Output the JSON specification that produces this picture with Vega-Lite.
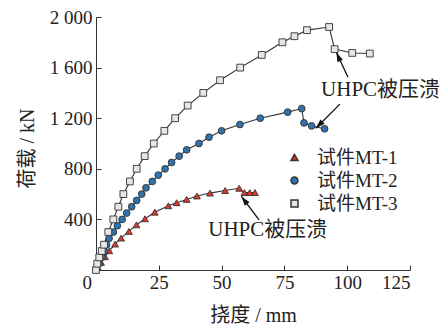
{
  "$schema": "https://vega.github.io/schema/vega-lite/v6.json",
  "width": 314,
  "height": 253,
  "autosize": {"type": "none"},
  "padding": {"left": 96, "top": 17, "right": 35, "bottom": 59},
  "background": "white",
  "config": {
    "view": {"stroke": null},
    "font": "Liberation Serif, Noto Sans CJK SC",
    "axis": {
      "grid": false,
      "domainColor": "#333",
      "tickColor": "#333",
      "labelColor": "#222",
      "titleColor": "#222",
      "labelFont": "Liberation Serif",
      "labelFontSize": 19,
      "titleFont": "Liberation Serif, Noto Sans CJK SC",
      "titleFontSize": 20,
      "titleFontWeight": "normal",
      "tickSize": -5
    }
  },
  "datasets": {
    "curves": [
      {"s": "试件MT-1", "x": 0.8, "y": 20},
      {"s": "试件MT-1", "x": 2.0, "y": 60},
      {"s": "试件MT-1", "x": 3.6, "y": 105},
      {"s": "试件MT-1", "x": 5.3, "y": 152},
      {"s": "试件MT-1", "x": 7.6, "y": 205},
      {"s": "试件MT-1", "x": 10.0, "y": 252},
      {"s": "试件MT-1", "x": 13.1, "y": 305},
      {"s": "试件MT-1", "x": 16.1, "y": 357},
      {"s": "试件MT-1", "x": 19.5, "y": 405},
      {"s": "试件MT-1", "x": 23.4, "y": 457},
      {"s": "试件MT-1", "x": 28.8, "y": 508},
      {"s": "试件MT-1", "x": 32.1, "y": 532},
      {"s": "试件MT-1", "x": 36.1, "y": 558},
      {"s": "试件MT-1", "x": 40.2, "y": 585},
      {"s": "试件MT-1", "x": 45.4, "y": 608},
      {"s": "试件MT-1", "x": 51.4, "y": 628},
      {"s": "试件MT-1", "x": 57.0, "y": 646},
      {"s": "试件MT-1", "x": 59.1, "y": 612},
      {"s": "试件MT-1", "x": 61.2, "y": 612},
      {"s": "试件MT-1", "x": 63.3, "y": 612},
      {"s": "试件MT-2", "x": 1.2, "y": 50},
      {"s": "试件MT-2", "x": 2.4, "y": 100},
      {"s": "试件MT-2", "x": 3.3, "y": 150},
      {"s": "试件MT-2", "x": 4.2, "y": 200},
      {"s": "试件MT-2", "x": 5.2, "y": 250},
      {"s": "试件MT-2", "x": 6.9, "y": 300},
      {"s": "试件MT-2", "x": 8.5, "y": 350},
      {"s": "试件MT-2", "x": 10.4, "y": 400},
      {"s": "试件MT-2", "x": 12.2, "y": 450},
      {"s": "试件MT-2", "x": 14.2, "y": 500},
      {"s": "试件MT-2", "x": 16.2, "y": 550},
      {"s": "试件MT-2", "x": 18.2, "y": 600},
      {"s": "试件MT-2", "x": 19.9, "y": 650},
      {"s": "试件MT-2", "x": 22.4, "y": 700},
      {"s": "试件MT-2", "x": 24.8, "y": 750},
      {"s": "试件MT-2", "x": 27.5, "y": 800},
      {"s": "试件MT-2", "x": 30.1, "y": 850},
      {"s": "试件MT-2", "x": 33.1, "y": 900},
      {"s": "试件MT-2", "x": 36.1, "y": 950},
      {"s": "试件MT-2", "x": 41.0, "y": 1000},
      {"s": "试件MT-2", "x": 45.0, "y": 1050},
      {"s": "试件MT-2", "x": 50.0, "y": 1100},
      {"s": "试件MT-2", "x": 57.3, "y": 1150},
      {"s": "试件MT-2", "x": 65.4, "y": 1200},
      {"s": "试件MT-2", "x": 76.3, "y": 1248},
      {"s": "试件MT-2", "x": 81.9, "y": 1276},
      {"s": "试件MT-2", "x": 82.8, "y": 1163},
      {"s": "试件MT-2", "x": 85.8, "y": 1139},
      {"s": "试件MT-2", "x": 91.0, "y": 1116},
      {"s": "试件MT-3", "x": 0.0, "y": 0},
      {"s": "试件MT-3", "x": 0.5, "y": 50},
      {"s": "试件MT-3", "x": 1.3, "y": 100},
      {"s": "试件MT-3", "x": 2.3, "y": 150},
      {"s": "试件MT-3", "x": 3.2, "y": 200},
      {"s": "试件MT-3", "x": 4.9, "y": 300},
      {"s": "试件MT-3", "x": 6.9, "y": 400},
      {"s": "试件MT-3", "x": 8.9, "y": 500},
      {"s": "试件MT-3", "x": 10.9, "y": 600},
      {"s": "试件MT-3", "x": 13.5, "y": 700},
      {"s": "试件MT-3", "x": 16.2, "y": 800},
      {"s": "试件MT-3", "x": 19.4, "y": 900},
      {"s": "试件MT-3", "x": 23.0, "y": 1000},
      {"s": "试件MT-3", "x": 27.2, "y": 1100},
      {"s": "试件MT-3", "x": 31.5, "y": 1200},
      {"s": "试件MT-3", "x": 36.5, "y": 1300},
      {"s": "试件MT-3", "x": 42.7, "y": 1400},
      {"s": "试件MT-3", "x": 49.4, "y": 1500},
      {"s": "试件MT-3", "x": 57.4, "y": 1600},
      {"s": "试件MT-3", "x": 66.0, "y": 1700},
      {"s": "试件MT-3", "x": 74.2, "y": 1800},
      {"s": "试件MT-3", "x": 79.0, "y": 1848},
      {"s": "试件MT-3", "x": 84.0, "y": 1896},
      {"s": "试件MT-3", "x": 92.8, "y": 1921},
      {"s": "试件MT-3", "x": 95.0, "y": 1746},
      {"s": "试件MT-3", "x": 102.0, "y": 1716},
      {"s": "试件MT-3", "x": 109.0, "y": 1711}
    ],
    "notes": [
      {"x": 89.6, "y": 1426, "t": "UHPC被压溃"},
      {"x": 44.7, "y": 318, "t": "UHPC被压溃"}
    ],
    "arrows": [
      {"x": 100.3, "y": 1524, "x2": 95.7, "y2": 1721},
      {"x": 97.1, "y": 1311, "x2": 87.5, "y2": 1120},
      {"x": 64.9, "y": 397, "x2": 57.9, "y2": 582}
    ]
  },
  "layer": [
    {
      "data": {"name": "curves"},
      "mark": {"type": "line", "color": "#333", "strokeWidth": 1.1},
      "encoding": {
        "x": {"field": "x", "type": "quantitative", "scale": {"domain": [0, 125], "nice": false},
          "axis": {"values": [0, 25, 50, 75, 100, 125], "title": "挠度 / mm", "labelPadding": 8,
            "labelOffset": {"condition": {"test": "datum.value == 0", "value": -14}, "value": 0},
            "titleBaseline": "middle", "titleY": 45, "titleX": 157}},
        "y": {"field": "y", "type": "quantitative", "scale": {"domain": [0, 2000], "nice": false},
          "axis": {"values": [400, 800, 1200, 1600, 2000], "title": "荷载 / kN", "labelPadding": 9,
            "labelExpr": "replace(format(datum.value, ','), ',', ' ')",
            "titleBaseline": "middle", "titleX": -69, "titleY": 131}},
        "detail": {"field": "s"}
      }
    },
    {
      "data": {"name": "curves"},
      "mark": {"type": "point", "filled": true, "stroke": "#333", "strokeWidth": 0.9, "size": 46, "opacity": 1},
      "encoding": {
        "x": {"field": "x", "type": "quantitative"},
        "y": {"field": "y", "type": "quantitative"},
        "shape": {"field": "s", "type": "nominal",
          "scale": {"domain": ["试件MT-1", "试件MT-2", "试件MT-3"], "range": ["triangle-up", "circle", "square"]},
          "legend": {
            "title": null,
            "orient": "none",
            "legendX": 189,
            "legendY": 131,
            "padding": 0,
            "labelFont": "Liberation Serif, Noto Sans CJK SC",
            "labelFontSize": 19,
            "labelColor": "#222",
            "labelOffset": 13,
            "rowPadding": 3,
            "symbolSize": 49,
            "symbolOpacity": 1,
            "encode": {
              "symbols": {
                "fill": {"value": {"expr": "datum.value == '试件MT-1' ? '#e0362c' : datum.value == '试件MT-2' ? '#2f72ad' : '#e6e6e6'"}},
                "stroke": {"value": "#333"},
                "strokeWidth": {"value": 1}
              }
            }
          }},
        "fill": {"field": "s", "type": "nominal",
          "scale": {"domain": ["试件MT-1", "试件MT-2", "试件MT-3"], "range": ["#e0362c", "#2f72ad", "#e6e6e6"]},
          "legend": null}
      }
    },
    {
      "data": {"name": "arrows"},
      "mark": {"type": "rule", "color": "#111", "strokeWidth": 1.3},
      "encoding": {
        "x": {"field": "x", "type": "quantitative"},
        "y": {"field": "y", "type": "quantitative"},
        "x2": {"field": "x2"},
        "y2": {"field": "y2"}
      }
    },
    {
      "data": {"values": [{"x": 95.7, "y": 1721}]},
      "mark": {"type": "point", "shape": "M0,0L0.6,1.9H-0.6Z", "filled": true, "color": "#111", "opacity": 1, "size": 100, "angle": 337},
      "encoding": {"x": {"field": "x", "type": "quantitative"}, "y": {"field": "y", "type": "quantitative"}}
    },
    {
      "data": {"values": [{"x": 87.5, "y": 1120}]},
      "mark": {"type": "point", "shape": "M0,0L0.6,1.9H-0.6Z", "filled": true, "color": "#111", "opacity": 1, "size": 100, "angle": 225},
      "encoding": {"x": {"field": "x", "type": "quantitative"}, "y": {"field": "y", "type": "quantitative"}}
    },
    {
      "data": {"values": [{"x": 57.9, "y": 582}]},
      "mark": {"type": "point", "shape": "M0,0L0.6,1.9H-0.6Z", "filled": true, "color": "#111", "opacity": 1, "size": 100, "angle": 323},
      "encoding": {"x": {"field": "x", "type": "quantitative"}, "y": {"field": "y", "type": "quantitative"}}
    },
    {
      "data": {"name": "notes"},
      "mark": {"type": "text", "align": "left", "baseline": "middle", "fontSize": 21, "color": "#222", "font": "Liberation Serif, Noto Sans CJK SC"},
      "encoding": {
        "x": {"field": "x", "type": "quantitative"},
        "y": {"field": "y", "type": "quantitative"},
        "text": {"field": "t"}
      }
    }
  ]
}
